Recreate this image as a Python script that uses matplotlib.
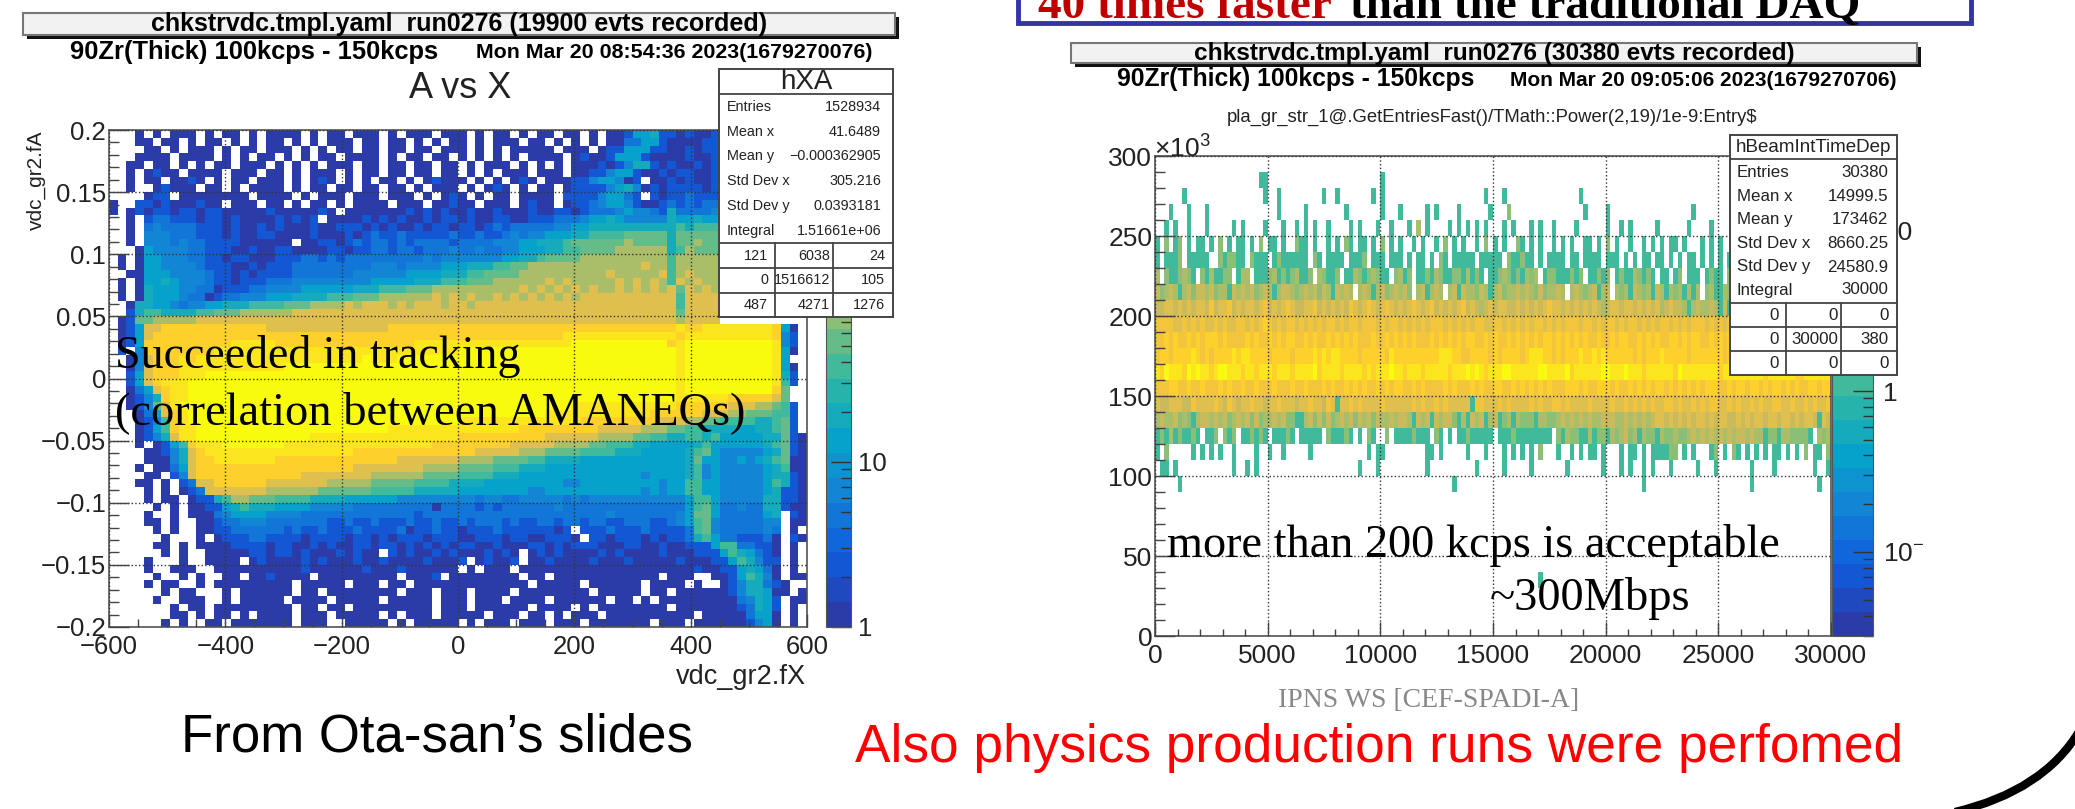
import numpy as np
import matplotlib
matplotlib.use("Agg")
import matplotlib.pyplot as plt
from matplotlib.colors import LinearSegmentedColormap, LogNorm
from matplotlib.patches import Rectangle, PathPatch
from matplotlib.path import Path
from matplotlib.ticker import MultipleLocator, LogLocator, NullFormatter

plt.rcParams['font.family'] = ['Liberation Sans', 'DejaVu Sans']

W, H = 2075, 809

# ROOT kBird palette
BIRD_COLORS = ['#2b3ca8', '#0f5cdd', '#1481d6', '#06a4ca', '#2eb7a4',
               '#87bf77', '#d1bb59', '#fec832', '#f9fb0e']

# hXA: counts, top row first. '.' is an empty bin
XA_COUNTS = {'1': 1, '2': 2, '3': 4, '4': 7, '5': 12, '6': 22, '7': 38, '8': 60,
             '9': 110, 'a': 190, 'b': 380, 'c': 650, 'd': 1000}
XA_ROWS = [
    "...1.1.111 .1.11.1.11 11.1.11.11 1.1.111.11 1.1.11.1.1 1.11.1.112 5562212112",
    "...11.11.1 .11.1.1.11 .1.1.111.1 1.11.1.1.1 1.1.111.11 .1.1.1.113 3552111122",
    "....11.1.1 11.1.11.11 1.1.1.11.1 1.11.11.11 1.1.1.1111 1.111.1225 5522112122",
    "...1111.11 11.1.1.11. 1.1.11.111 1.1.11.11. 1.1.1.1.11 11.1211255 5211112112",
    "..11.11.1. 1.11.111.1 .1.1.111.1 1.11.11.11 .1.111.1.1 .1.1112124 6621211212",
    "..1.1211.1 111.111.11 .1.111.1.1 1.11.11.11 .1.1.111.1 11.1122455 2112122112",
    "..1.11.112 1.1.11.111 .1.121.1.1 .11.1.1211 1.1.1.121. 1112245541 2.11212112",
    "..1..12111 .11.1.1111 .1.11.11.1 1.11.1.111 .1.121.1.1 1.12222456 4121222212",
    "....122.11 111111.111 1.1.111.11 1.111.1.12 1.1.11.111 1.22224553 2.21223222",
    "1..2212111 211.111.11 .1.11.1.11 11.111.112 11.111.121 1.12234554 2112323233",
    "1.12122122 1221111121 111121.111 1111212121 1211211121 1221233345 4432633334",
    "..1.233222 1221211112 1212.11112 1212112122 1211221122 2333455654 4444655655",
    "..1.343333 2221211212 1112112221 2121121221 2212323333 3445566666 6666676777",
    "..1.444333 2221211221 1112111212 3223222223 2232234344 5556677778 8888688888",
    "..1.444343 3222211111 1.11221232 3323233332 3333444556 6678888889 8888688988",
    "...1544443 3222112112 2111122122 3323323334 3343344555 6677888899 9999679888",
    ".1.1554443 3221221112 2233232333 3333334344 4444455667 8888999999 9999799999",
    ".1.1554444 3222112122 2333333333 4443444455 5666778899 9999999999 9a99799999",
    "..11555444 4322121222 2333333344 4444555566 6778888999 9999999a99 999a79a999",
    ".1.1556544 4322122233 3444444444 5555566677 7888999999 a9a99999a9 a9a97a9a99",
    ".1.1655544 3312223344 4455555566 6777888999 9999999a9a 9a9a9a99a9 a9a9a8a9a9",
    ".1.1655543 3123344455 5666677788 8999999a9a 9a99a9a9a9 a9a9aaaaaa aaaaa7aaaa",
    "..16655434 4556667777 8889999a9a aa9a9aaa9a a9aaaaaaaa aaaaaaaaaa aaaaa7aaaa",
    "..26776666 7788899999 9aaaaaaaaa aaaaaaaaaa aaaaaaaaaa aaaaaaaaaa aaaaa8aaaa",
    ".128899999 aaaaaaaaaa aaaaaaaaaa aaaaaaaaaa aaaaaaaaaa aaaaaaaaaa aaaaa9aaaa",
    ".125aabbbb bbbbbbbbaa aaaaaaaaaa aabbbbbbbb bbbbbbbbbb bbbbbbbbbb bbbbbcbbcc ccccccb51.",
    ".125abbbbb bbbbbbbbbb bbbbbbbbbb bbbbbbbbbb bbbbbbbbbb bbcccccccc cccccbcccc ccccccb42.",
    ".125bbbbbb bbbbcccccb bbbbbbbbbb bbbbbccccc cccccccccc cccddddddd ddddbcdddd ddddddc42.",
    ".2.4bbbbbb bbcccccccc cccccccccc cccccccccc dddddddddd dddddddddd dddddcdddd ddddddc51.",
    "..14abbbcb cccccccccc cccccccccd cccddddddd dddddddddd dddddddddd dddddcdddd ddddddc5..",
    "..14abbbcc cccccccccc dddddddddd dddddddddd dddddddddd dddddddddd dddddcdddd ddddddc51.",
    "..25abbbcc cddddddddd dddddddddd dddddddddd dddddddddd dddddddddd dddddcdddd ddddddc62.",
    "..25abcccd dddddddddd dddddddddd dddddddddd dddddddddd dddddddddd dddddcdddd ddddddc72.",
    "..135abccd dddddddddd dddddddddd dddddddddd dddddddddd dddddddddd dddddcdddd ddddddb8..",
    "..1246bccd dddddddddd dddddddddd dddddddddd dddddddddd dddddddddd dddddccccc cbbbbba8..",
    "..1248acdd dddddddddd dddddddddd dddddddddd dddddddddd dddccccccc cccccbbbbb baaa99872.",
    "...135abcd dddddddddd dddddddddd dddddddddd dddddddddd cccccccccc ccbbbbbbaa a99888772.",
    "...1247bcd dddddddddd dddddddddd dddddddddd cccccccccc ccccbbbbbb bbbaaa9988 777766782.",
    "...1257bcc dddddddddd dddddddddd ddcccccccc cccccccbbb bbbbbbaaaa a999887766 665566782.",
    "...1246acc dddddddddd dddccccccc cccccccccc bbbbbbbbbb aaaaaa9999 8877667767 5555566821",
    "...1.1257b cccddddddd cccccccccc cccccccbbb bbbbbbaaaa a999988777 6655555675 5555567821",
    "....11246a bccccccccc ccccccccbb bbbbbbbbbb bbaaaaa999 8888777766 6555556785 4444456821",
    "....11146a bbcccccccb bbbbbbbbbb bbbaaaaaaa 9999888877 6666555555 5555556855 4454567811",
    "...1.1135a bbbbbbbbbb bbbbbbbbaa aaaaaa9999 8888777666 5555555555 5555556745 4444456711",
    "....11.24a bbbbbbbbbb bbaaaaaaaa 9999998888 7777666555 5555555555 5455556745 4444456621",
    "...11.1.23 aabbbbbbaa aaaaa99999 8888877776 6665555555 5544555555 5554557755 4444457621",
    "....1.1.12 3aaaaaaa99 9999888888 7777766666 5555555544 5555555555 5454557755 4444456221",
    "....1.11.1 2267998887 7776666555 5554444444 4434433444 4434344444 4444445775 4444466221",
    ".....1.1.1 1225676665 5554444433 3333333133 3323233333 3433333333 3333335785 3343366211",
    "....1..1.1 1134555544 4433333333 3333323333 3333333333 3333333433 3333345885 3333356.21",
    "....11.1.. 1123344433 3333322322 3222322322 3233323223 3233233223 3322345784 3333344.11",
    ".....1.1.. 1122333333 2322322232 2223122322 1222322222 212.222322 2322223784 3333343.1.",
    "......1... 1.12223322 2212222122 1212221222 1122212211 2221.22122 2121223675 3322231.21",
    ".....11.1. 1111222212 2112121122 1221212121 2211211122 1212221112 2112112225 7733221.1.",
    "......1.1. .111112212 2121112121 1.21211212 1112121.12 1211112121 1112111222 5765321.1.",
    "....1...1. .1111.1211 1121211121 1211112111 2.12112.11 2111121112 1111121112 2576422.1.",
    "....1..111 ..11111111 1121111112 1112111111 .1.111.111 1111111111 1111111211 2256531.1.",
    ".....1..1. 1..11.1121 111.111111 111.1112.1 1111111.11 .111111111 111.111..1 1257641.11",
    "....1.11.. 1.11111111 1.11111.11 1.11.11111 11111111.1 1111.11111 1.1111.1.. 12466321..",
    "......1.11 ...1.11111 1.11.11111 111.111.11 1.1111.111 11111.1111 1.11.11111 12466511.1",
    ".....1..11 1..1.11111 .1111.1111 1.11111.11 1.111.1111 .111111.11 .1.1111111 1134652.11",
    ".......1.1 1.11111111 1.11.11.11 1111111.11 1.111111.1 111.1.1111 1111.11111 1123652.1.",
    ".......11. 1.11.1.111 1.111.1111 1.1.111.11 111.111.11 .1.111.111 1111111.11 1113551.1.",
    "......1.1. .11.111111 1.111..111 11.1.11111 .1.111.111 .111.11111 11.111.111 1112451.1.",
]

# hBeamIntTimeDep: 30 rows of 10k each, 290-300k first
BEAM_COUNTS = {'1': 1, '2': 2, '3': 3, '4': 4, '5': 6, '6': 9, '7': 13, '8': 20, '9': 29}
BEAM_ROWS = [
    "",
    ".......... .......... ...11..... .......... .......... 1.........",
    "......1... .......... ....1..1.. .......1.. 1.......1. 1......... .......... ...1...1.. .......... ....1.....",
    "...1...1.. .1........ .......1.. ...1...... ..1....... 1...1..... 1.1....1.. ....1...2. .......... .....1.... 1......... .........1",
    "..1.1..1.. .1.....1.1 ....1...1. .1.1.1..1. ...1.1...1 ..1...1.3. 1....1.1.1 .1.1...1.1 ...1.1..1. ...1...... 1..1.1.... .1......1. ...1......",
    "1.2.12.1.1 1.1.2.1.11 .1.2.11.1. .211.1..1. 1.21.11.1. 2.1.1..1.1 ..1.2.1.1. .1.2.1.1.. 21.1.1..1. 1.1..11.1. 2.1..1..1. 1.1.11.1.. .1.1.1....",
    "1.1112.111 11..212211 .2111.1211 1111.21.11 11.1112.11 1.111.1.11 .1.21.1111 1.11111.21 1211.1.111 1.11.1111. 111.1.1.11 .11.1.1.11 .1.1.1.1.1",
    "3.2112321. 2131122.13 3.11123121 23112.3211 2.11321232 11.2312.11 2132112213 121.112321 21323.1221 11212.1121 2.12113212 1.11.12.11 1.1211.21.",
    "4234313424 4342331434 3423431344 3234342431 4343.34313 4234342.34 1343.34143 3243134233 4343242334 3.34323413 4.32314323 1431323131 3.2311321..",
    "4455454545 5464556454 5545645456 5445564545 4546545654 5654545654 5645454564 5434545544 5454545655 4545454543 4554554545 4534544313 43343141.3",
    "6666556565 6556565566 5656765656 6565656566 5656656665 6566565656 5666565656 5665566565 6565665656 5666566565 6656566565 6566565656 6656565656",
    "6676766767 6777676666 7676676767 7667676676 7676766676 6767676766 6767676767 7667676676 7676767767 6767676676 6767766767 6766776767 7667676767",
    "6776777787 6767777878 8777767777 6777787878 8777767777 7687777777 7778887766 7777676777 7678887767 6777877878 7777776767 7787777767 7777776767",
    "8798887989 8878998887 8878887888 7888897888 8788887878 8898878887 8888878889 8987888998 8888899888 8978888889 9888988878 8888879888 8888878888 8888878888 8877888888",
    "6667766766 7666767667 6676667666 7667666767 6676767667 6767766767 6666767666 7676677667 6767676766 6777676677 7676676767 6776767676 7677766767 7677676776 7676677677",
    "5445554465 5556546545 5655455655 5455655465 1556565555 6555555656 5565655555 1665556565 5556565566 5655556555 5655656565 6556656556 5656655656 5565655665 5655656556",
    "3433423213 4434342343 4242334342 2113424242 3434243424 3343443143 4143442131 4341341231 3222133223 4343434334 4433434343 4554545454 5545455445 4545545545 5454554154",
    "1213121121 .112.212.1 12121.1112 1.11111.21 1121.1.21. .2.1111211 1.21.1.112 11111.1112 11111111.21 3221131221 3234231322 1322322343 4343434344 3433122133 22221.3233",
    "1.2.....1. 1.1.1..1.. ..1..1..1. ....1..... .......1.1 1.........1 1.1.....1. ..1...1.1. 1.1.2...1. .1.1.11.1. ..1.11.1.1 11122.1.1. ..12.1.21. 1.1.1.11.1 .1.2.11.21",
    ".11.1..... .......1.. 1.1....... .......... .....1...1 .......... 1......... .1.....1.. ...1...... .1.......1 ...1.1..1. 1...1..... 1...1..... ..1....1.. ......1..1",
    ".....1.... .......... .......... .......... .......... .......... ......1... .......... .......... .......... ........1. .......... .......... ..1....... .......1..",
    "", "", "", "", "",
    ".......... .......... .......... .......... .......... .......... .......... .......... .....1....",
    "", "", "",
]

# ticks
XA_XTICKS = [-600, -400, -200, 0, 200, 400, 600]
XA_XLABELS = ['\u2212600', '\u2212400', '\u2212200', '0', '200', '400', '600']
XA_YTICKS = [-0.2, -0.15, -0.1, -0.05, 0, 0.05, 0.1, 0.15, 0.2]
XA_YLABELS = ['\u22120.2', '\u22120.15', '\u22120.1', '\u22120.05', '0', '0.05', '0.1', '0.15', '0.2']
BEAM_XTICKS = [0, 5000, 10000, 15000, 20000, 25000, 30000]
BEAM_YTICKS = [0, 50, 100, 150, 200, 250, 300]

XA_STATS = [('Entries', '1528934'), ('Mean x', '41.6489'), ('Mean y', '\u22120.000362905'),
            ('Std Dev x', '305.216'), ('Std Dev y', '0.0393181'), ('Integral', '1.51661e+06')]
XA_TABLE = [['121', '6038', '24'], ['0', '1516612', '105'], ['487', '4271', '1276']]
BEAM_STATS = [('Entries', '30380'), ('Mean x', '14999.5'), ('Mean y', '173462'),
              ('Std Dev x', '8660.25'), ('Std Dev y', '24580.9'), ('Integral', '30000')]
BEAM_TABLE = [['0', '0', '0'], ['0', '30000', '380'], ['0', '0', '0']]


def to_grid(rows, n_cols, table):
    # turn the level strings into a masked count array
    grid = np.full((len(rows), n_cols), np.nan)
    for r, row in enumerate(rows):
        for c, ch in enumerate(row.replace(' ', '')[:n_cols]):
            if ch in table:
                grid[r, c] = table[ch]
    return np.ma.masked_invalid(grid)


def px_axes(fig, x0, y0, x1, y1):
    # axes from reference pixel box
    return fig.add_axes([x0 / W, 1 - y1 / H, (x1 - x0) / W, (y1 - y0) / H])


def style_frame(ax, major_x, minor_x, major_y, minor_y, size):
    for s in ax.spines.values():
        s.set_color('#555555')
        s.set_linewidth(1.2)
    ax.tick_params(axis='y', which='major', direction='in', length=major_y, width=1, color='#444444',
                   pad=2, labelsize=size, labelcolor='#222222')
    ax.tick_params(axis='y', which='minor', direction='in', length=minor_y, width=1, color='#444444')
    ax.tick_params(axis='x', which='major', direction='in', length=major_x, width=1, color='#444444',
                   pad=6, labelsize=size, labelcolor='#222222')
    ax.tick_params(axis='x', which='minor', direction='in', length=minor_x, width=1, color='#444444')
    ax.grid(True, which='major', linestyle=':', color='#333333', linewidth=1.0)
    ax.set_axisbelow(False)


def title_box(ov, x0, y0, x1, y1):
    ov.add_patch(Rectangle((x0 + 4, y0 + 4), x1 - x0, y1 - y0, facecolor='#111111', edgecolor='none'))
    ov.add_patch(Rectangle((x0, y0), x1 - x0, y1 - y0, facecolor='#f2f2f2', edgecolor='#777777', linewidth=1.5))


def stats_box(ov, box, header, head_size, line_y, stats, stat_y, table, col_x, text_x, size):
    x0, y0, x1, y1 = box
    ov.add_patch(Rectangle((x0, y0), x1 - x0, y1 - y0, facecolor='white', edgecolor='#444444', linewidth=1.4))
    ov.text((x0 + x1) / 2, (y0 + line_y[0]) / 2, header, fontsize=head_size,
            ha='center', va='center', color='#222222')
    for y in line_y:
        ov.plot([x0, x1], [y, y], color='#444444', lw=1.3)
    for (name, value), y in zip(stats, stat_y):
        ov.text(text_x[0], y, name, fontsize=size, ha='left', va='center', color='#222222')
        ov.text(text_x[1], y, value, fontsize=size, ha='right', va='center', color='#222222')
    ov.plot([col_x[0]] * 2, [line_y[1], y1], color='#444444', lw=1.3)
    ov.plot([col_x[1]] * 2, [line_y[1], y1], color='#444444', lw=1.3)
    ends = [col_x[0] - 7, col_x[1] - 3, x1 - 8]
    rows_y = [(line_y[i] + (line_y[i + 1] if i + 1 < len(line_y) else y1)) / 2 for i in range(1, len(line_y))]
    for row, y in zip(table, rows_y):
        for cell, end in zip(row, ends):
            ov.text(end, y, cell, fontsize=size, ha='right', va='center', color='#222222')


fig = plt.figure(figsize=(W / 100, H / 100), dpi=100, facecolor='white')
bird = LinearSegmentedColormap.from_list('bird', BIRD_COLORS, N=20)
bird.set_bad('white')

# left histogram
ax1 = px_axes(fig, 109, 130, 807, 627)
xa = to_grid(XA_ROWS, 80, XA_COUNTS)
m1 = ax1.pcolormesh(np.linspace(-600, 600, 81), np.linspace(0.2, -0.2, 65), xa, cmap=bird,
                    norm=LogNorm(1, 1020), linewidth=0, antialiased=False)
ax1.set_xlim(-600, 600)
ax1.set_ylim(-0.2, 0.2)
ax1.set_xticks(XA_XTICKS, XA_XLABELS)
ax1.set_yticks(XA_YTICKS, XA_YLABELS)
ax1.xaxis.set_minor_locator(MultipleLocator(50))
ax1.yaxis.set_minor_locator(MultipleLocator(0.01))
style_frame(ax1, 9.5, 5.5, 14.5, 7.2, 18.5)

cax1 = px_axes(fig, 826, 130, 851, 627)
cb1 = fig.colorbar(m1, cax=cax1)
cb1.set_ticks([1, 10], labels=['1', '10'])
cax1.yaxis.set_minor_locator(LogLocator(base=10, subs=range(2, 10), numticks=12))
cax1.yaxis.set_minor_formatter(NullFormatter())
cax1.tick_params(which='major', direction='in', length=14.5, width=1, color='#333333', pad=5, labelsize=18.5, labelcolor='#222222')
cax1.tick_params(which='minor', direction='in', length=7.2, width=1, color='#333333')
cb1.outline.set_edgecolor('#555555')

# right histogram
ax2 = px_axes(fig, 1155, 156, 1831, 636)
beam = to_grid(BEAM_ROWS, 150, BEAM_COUNTS)
m2 = ax2.pcolormesh(np.linspace(0, 30000, 151), np.linspace(300, 0, 31), beam, cmap=bird,
                    norm=LogNorm(0.03, 29), linewidth=0, antialiased=False)
ax2.set_xlim(0, 30000)
ax2.set_ylim(0, 300)
ax2.set_xticks(BEAM_XTICKS, [str(t) for t in BEAM_XTICKS])
ax2.set_yticks(BEAM_YTICKS, [str(t) for t in BEAM_YTICKS])
ax2.xaxis.set_minor_locator(MultipleLocator(1000))
ax2.yaxis.set_minor_locator(MultipleLocator(10))
style_frame(ax2, 10, 5, 14.5, 7.2, 19)

cax2 = px_axes(fig, 1832, 156, 1873, 636)
cb2 = fig.colorbar(m2, cax=cax2)
cb2.set_ticks([0.1, 1, 10], labels=['10$^{\\mathdefault{-}}$', '1', '10'])
cax2.yaxis.set_minor_locator(LogLocator(base=10, subs=range(2, 10), numticks=12))
cax2.yaxis.set_minor_formatter(NullFormatter())
cax2.tick_params(which='major', direction='in', length=14.5, width=1, color='#333333', pad=7, labelsize=19, labelcolor='#222222')
cax2.tick_params(which='minor', direction='in', length=7.2, width=1, color='#333333')
cb2.outline.set_edgecolor('#555555')

# overlay in reference pixels for all the slide furniture
ov = fig.add_axes([0, 0, 1, 1], zorder=10)
ov.set_xlim(0, W)
ov.set_ylim(H, 0)
ov.axis('off')
ov.patch.set_alpha(0)

title_box(ov, 23, 13, 895, 35)
ov.text(459, 24, 'chkstrvdc.tmpl.yaml  run0276 (19900 evts recorded)', fontsize=18, fontweight='bold', ha='center', va='center')
ov.text(70, 52, '90Zr(Thick) 100kcps - 150kcps', fontsize=18.4, fontweight='bold', ha='left', va='center')
ov.text(476, 52, 'Mon Mar 20 08:54:36 2023(1679270076)', fontsize=15.4, fontweight='bold', ha='left', va='center')
ov.text(460, 88, 'A vs X', fontsize=26, ha='center', va='center', color='#222222')
ov.text(36, 130, 'vdc_gr2.fA', fontsize=15, rotation=90, ha='center', va='top', color='#222222')
ov.text(806, 677, 'vdc_gr2.fX', fontsize=19.5, ha='right', va='center', color='#222222')

stats_box(ov, (719, 69, 893, 317), 'hXA', 20, [94, 243, 268, 293],
          XA_STATS, [107, 132, 156, 181, 206, 231], XA_TABLE, (775, 833), (727, 881), 10.4)

title_box(ov, 1071, 43, 1917, 63)
ov.text(1494, 53, 'chkstrvdc.tmpl.yaml  run0276 (30380 evts recorded)', fontsize=17.6, fontweight='bold', ha='center', va='center')
ov.text(1117, 79, '90Zr(Thick) 100kcps - 150kcps', fontsize=17.8, fontweight='bold', ha='left', va='center')
ov.text(1510, 80, 'Mon Mar 20 09:05:06 2023(1679270706)', fontsize=15, fontweight='bold', ha='left', va='center')
ov.text(1492, 117, 'pla_gr_str_1@.GetEntriesFast()/TMath::Power(2,19)/1e-9:Entry$', fontsize=13.3, ha='center', va='center', color='#222222')
ov.text(1154, 148, '\u00d710$^{\\mathdefault{3}}$', fontsize=19, ha='left', va='center', color='#222222')

stats_box(ov, (1730, 135, 1897, 375), 'hBeamIntTimeDep', 13.5, [159, 303, 327, 351],
          BEAM_STATS, [172, 196, 219, 243, 267, 290], BEAM_TABLE, (1786, 1841), (1737, 1888), 12.2)

# slide text
ov.text(115, 368, 'Succeeded in tracking', family='Liberation Serif', fontsize=33, va='baseline', color='black')
ov.text(115, 424, '(correlation between AMANEQs)', family='Liberation Serif', fontsize=33.5, va='baseline', color='black')
ov.text(1167, 557, 'more than 200 kcps is acceptable', family='Liberation Serif', fontsize=33.3, va='baseline', color='black')
ov.text(1490, 610, '~300Mbps', family='Liberation Serif', fontsize=33.5, va='baseline', color='black')
ov.text(1278, 707, 'IPNS WS [CEF-SPADI-A]', family='Liberation Serif', fontsize=20, va='baseline', color='#888888')
ov.text(181, 752, 'From Ota-san\u2019s slides', fontsize=38, va='baseline', color='black')
ov.text(855, 762, 'Also physics production runs were perfomed', fontsize=38.3, va='baseline', color='#ff0000')

# headline box cut by the top of the slide
ov.plot([1018, 1018, 1971, 1971], [-5, 23, 23, -5], color='#3333aa', lw=3.5, solid_joinstyle='miter')
ov.text(1038, 18, '40 times faster', family='Liberation Serif', fontweight='bold', fontsize=34, va='baseline', color='#c00000')
ov.text(1350, 18, 'than the traditional DAQ', family='Liberation Serif', fontweight='bold', fontsize=34, va='baseline', color='black')

# corner arc of the slide frame
arc = Path([(1955, 812), (2044, 791), (2080, 730)], [Path.MOVETO, Path.CURVE3, Path.CURVE3])
ov.add_patch(PathPatch(arc, facecolor='none', edgecolor='black', linewidth=6))

fig.savefig('out.png', dpi=100)
